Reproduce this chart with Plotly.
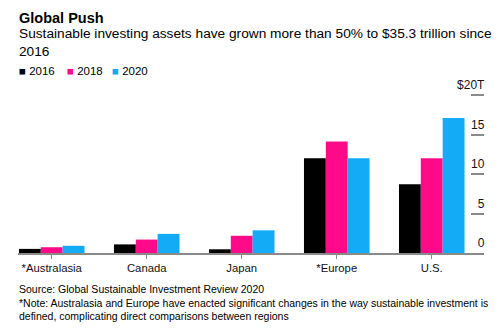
import plotly.graph_objects as go

# ---- data ----
regions = ["*Australasia", "Canada", "Japan", "*Europe", "U.S."]
years = ["2016", "2018", "2020"]
values_2016 = [0.52, 1.09, 0.47, 12.0, 8.7]
values_2018 = [0.73, 1.70, 2.18, 14.1, 12.0]
values_2020 = [0.91, 2.42, 2.87, 12.0, 17.1]
series = [values_2016, values_2018, values_2020]
colors = ["#000000", "#ff0b8a", "#13aaf6"]
y_tickvals = [0, 5, 10, 15, 20]
y_ticktext = ["0", "5", "10", "15", "$20T"]

title = "Global Push"
subtitle = "Sustainable investing assets have grown more than 50% to $35.3 trillion since<br>2016"
source = ("Source: Global Sustainable Investment Review 2020<br>"
          "*Note: Australasia and Europe have enacted significant changes in the way sustainable investment is<br>"
          "defined, complicating direct comparisons between regions")

W, H = 500, 333
L, R, T, B = 18, 16, 92, 80
FONT = "Liberation Sans, Arial, Helvetica, sans-serif"
GRAY = "#8a8a8a"


def px_x(x):
    return (x - L) / (W - L - R)


def px_y(y):
    return (H - B - y) / (H - T - B)


fig = go.Figure()
for name, vals, col in zip(years, series, colors):
    fig.add_trace(go.Bar(x=regions, y=vals, name=name, marker=dict(color=col, line=dict(width=0)),
                         showlegend=False))

annotations = [
    dict(text="<b>" + title + "</b>", x=px_x(18), y=px_y(18), xref="paper", yref="paper",
         xanchor="left", yanchor="middle", showarrow=False, xshift=-1,
         font=dict(size=14.5, color="#000000", family=FONT)),
    dict(text=subtitle, x=px_x(18), y=px_y(24), xref="paper", yref="paper",
         xanchor="left", yanchor="top", showarrow=False, xshift=-1, align="left",
         font=dict(size=13.7, color="#000000", family=FONT)),
    dict(text=source, x=px_x(18), y=px_y(281), xref="paper", yref="paper",
         xanchor="left", yanchor="top", showarrow=False, xshift=-1, align="left",
         font=dict(size=10.5, color="#000000", family=FONT)),
]
legend_x = [18, 66, 111]
for lx, name, col in zip(legend_x, years, colors):
    annotations.append(dict(
        text=f"<span style='color:{col}'>■</span> {name}", x=px_x(lx), y=px_y(71),
        xref="paper", yref="paper", xanchor="left", yanchor="middle", showarrow=False,
        xshift=-1, font=dict(size=11.5, color="#000000", family=FONT)))

fig.update_layout(
    width=W, height=H,
    margin=dict(l=L, r=R, t=T, b=B, pad=0),
    paper_bgcolor="white", plot_bgcolor="white",
    barmode="group", bargap=0.31, bargroupgap=0,
    font=dict(family=FONT, color="#000000"),
    annotations=annotations,
    xaxis=dict(
        type="category", range=[-0.355, 4.55],
        showline=True, linecolor=GRAY, linewidth=1.5,
        ticks="outside", ticklen=4, tickwidth=1, tickcolor=GRAY,
        tickfont=dict(size=11.3, color="#111111", family=FONT),
        showgrid=False, zeroline=False, fixedrange=True,
    ),
    yaxis=dict(
        side="right", range=[0, 20.38],
        tickvals=y_tickvals, ticktext=y_ticktext,
        ticks="inside", ticklen=13, tickwidth=1.5, tickcolor=GRAY,
        ticklabelposition="inside", ticklabelshift=-10, ticklabelstandoff=-14,
        ticklabeloverflow="allow",
        tickfont=dict(size=12, color="#111111", family=FONT),
        showgrid=False, zeroline=False, showline=False, fixedrange=True,
    ),
)

fig.write_html("out.html")
